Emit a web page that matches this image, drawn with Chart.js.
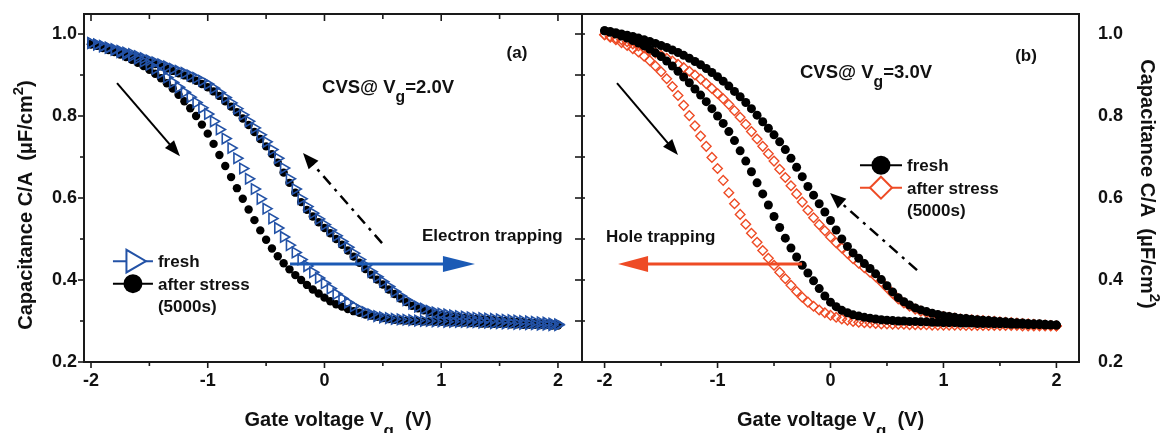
<!DOCTYPE html>
<html>
<head>
<meta charset="utf-8">
<script src="https://cdn.jsdelivr.net/npm/chart.js@4.4.1/dist/chart.umd.min.js"></script>
<style>
  html, body { margin: 0; padding: 0; background: #fff; }
  #wrap { position: relative; width: 1166px; height: 433px; overflow: hidden; }
  canvas { position: absolute; top: 0; }
  #chartA { left: 0; }
  #chartB { left: 560px; }
</style>
</head>
<body>
<div id="wrap">
  <canvas id="chartA" width="600" height="433"></canvas>
  <canvas id="chartB" width="606" height="433"></canvas>
</div>
<script>
// gate voltage sweep (V), same grid for every curve
const gateV = [
  -2, -1.95, -1.9, -1.85, -1.8, -1.75, -1.7, -1.65, -1.6, -1.55,
  -1.5, -1.45, -1.4, -1.35, -1.3, -1.25, -1.2, -1.15, -1.1, -1.05,
  -1, -0.95, -0.9, -0.85, -0.8, -0.75, -0.7, -0.65, -0.6, -0.55,
  -0.5, -0.45, -0.4, -0.35, -0.3, -0.25, -0.2, -0.15, -0.1, -0.05,
  0, 0.05, 0.1, 0.15, 0.2, 0.25, 0.3, 0.35, 0.4, 0.45,
  0.5, 0.55, 0.6, 0.65, 0.7, 0.75, 0.8, 0.85, 0.9, 0.95,
  1, 1.05, 1.1, 1.15, 1.2, 1.25, 1.3, 1.35, 1.4, 1.45,
  1.5, 1.55, 1.6, 1.65, 1.7, 1.75, 1.8, 1.85, 1.9, 1.95, 2
];
const xTicks = [-2, -1, 0, 1, 2];
const xMinor = [-1.5, -0.5, 0.5, 1.5];
const yTicks = [0.2, 0.4, 0.6, 0.8, 1.0];
const yMinor = [0.3, 0.5, 0.7, 0.9];
const seriesNames = ['fresh', 'after stress'];

// (a) CVS @ Vg = 2.0V  -- C/A in uF/cm2, fwd = -2 -> 2, rev = 2 -> -2
const aFreshFwd = [
  0.978, 0.974, 0.970, 0.966, 0.961, 0.956, 0.951, 0.946, 0.940, 0.933,
  0.925, 0.915, 0.905, 0.894, 0.882, 0.870, 0.858, 0.846, 0.833, 0.820,
  0.805, 0.787, 0.767, 0.745, 0.722, 0.697, 0.672, 0.647, 0.622, 0.598,
  0.574, 0.550, 0.527, 0.505, 0.485, 0.467, 0.450, 0.434, 0.419, 0.405,
  0.392, 0.379, 0.366, 0.355, 0.345, 0.336, 0.328, 0.322, 0.316, 0.312,
  0.309, 0.307, 0.305, 0.304, 0.303, 0.302, 0.301, 0.300, 0.300, 0.299,
  0.299, 0.298, 0.298, 0.298, 0.298, 0.297, 0.297, 0.296, 0.296, 0.295,
  0.295, 0.294, 0.294, 0.293, 0.293, 0.292, 0.292, 0.291, 0.291, 0.290, 0.290
];
const aFreshRev = [
  0.978, 0.975, 0.971, 0.967, 0.963, 0.959, 0.955, 0.951, 0.946, 0.941,
  0.936, 0.931, 0.926, 0.921, 0.915, 0.910, 0.905, 0.899, 0.893, 0.886,
  0.878, 0.868, 0.857, 0.845, 0.832, 0.818, 0.803, 0.787, 0.771, 0.754,
  0.737, 0.718, 0.697, 0.673, 0.647, 0.622, 0.598, 0.579, 0.563, 0.549,
  0.535, 0.522, 0.508, 0.494, 0.480, 0.465, 0.450, 0.435, 0.420, 0.408,
  0.396, 0.384, 0.372, 0.361, 0.351, 0.342, 0.335, 0.330, 0.325, 0.321,
  0.318, 0.316, 0.314, 0.312, 0.311, 0.309, 0.308, 0.307, 0.306, 0.305,
  0.304, 0.303, 0.302, 0.301, 0.300, 0.299, 0.298, 0.297, 0.296, 0.294, 0.292
];
const aStressFwd = [
  0.975, 0.971, 0.966, 0.961, 0.956, 0.950, 0.944, 0.937, 0.930, 0.922,
  0.913, 0.903, 0.892, 0.880, 0.867, 0.852, 0.836, 0.819, 0.800, 0.779,
  0.757, 0.732, 0.705, 0.678, 0.651, 0.624, 0.598, 0.572, 0.546, 0.521,
  0.498, 0.477, 0.458, 0.441, 0.426, 0.412, 0.400, 0.388, 0.377, 0.367,
  0.357, 0.348, 0.341, 0.335, 0.329, 0.324, 0.320, 0.316, 0.313, 0.310,
  0.307, 0.305, 0.303, 0.302, 0.301, 0.300, 0.300, 0.299, 0.299, 0.298,
  0.298, 0.297, 0.297, 0.296, 0.296, 0.295, 0.295, 0.294, 0.294, 0.293,
  0.293, 0.293, 0.292, 0.292, 0.291, 0.291, 0.291, 0.290, 0.290, 0.289, 0.289
];
const aStressRev = [
  0.975, 0.972, 0.968, 0.964, 0.960, 0.956, 0.952, 0.947, 0.942, 0.937,
  0.932, 0.927, 0.921, 0.916, 0.910, 0.904, 0.899, 0.892, 0.886, 0.878,
  0.870, 0.860, 0.849, 0.836, 0.823, 0.809, 0.794, 0.778, 0.761, 0.744,
  0.726, 0.707, 0.686, 0.662, 0.637, 0.613, 0.590, 0.571, 0.555, 0.541,
  0.527, 0.514, 0.500, 0.486, 0.472, 0.457, 0.442, 0.427, 0.413, 0.401,
  0.389, 0.377, 0.366, 0.355, 0.346, 0.337, 0.331, 0.326, 0.321, 0.317,
  0.315, 0.313, 0.311, 0.309, 0.308, 0.306, 0.305, 0.304, 0.303, 0.302,
  0.301, 0.300, 0.299, 0.298, 0.297, 0.296, 0.295, 0.294, 0.293, 0.292, 0.291
];

// (b) CVS @ Vg = 3.0V
const bFreshFwd = [
  1.008, 1.004, 1.000, 0.995, 0.990, 0.984, 0.978, 0.971, 0.963, 0.954,
  0.945, 0.934, 0.922, 0.909, 0.895, 0.881, 0.866, 0.851, 0.835, 0.818,
  0.800, 0.782, 0.762, 0.740, 0.715, 0.690, 0.664, 0.637, 0.610, 0.583,
  0.555, 0.528, 0.502, 0.478, 0.456, 0.436, 0.417, 0.398, 0.379, 0.361,
  0.346, 0.335, 0.326, 0.320, 0.315, 0.312, 0.309, 0.307, 0.305, 0.303,
  0.302, 0.301, 0.300, 0.300, 0.299, 0.299, 0.298, 0.298, 0.297, 0.297,
  0.296, 0.296, 0.296, 0.295, 0.295, 0.295, 0.294, 0.294, 0.294, 0.293,
  0.293, 0.293, 0.292, 0.292, 0.292, 0.291, 0.291, 0.291, 0.290, 0.290, 0.290
];
const bFreshRev = [
  1.008, 1.006, 1.003, 1.000, 0.997, 0.994, 0.990, 0.986, 0.982, 0.977,
  0.972, 0.967, 0.961, 0.955, 0.948, 0.941, 0.933, 0.925, 0.916, 0.906,
  0.896, 0.885, 0.873, 0.860, 0.847, 0.833, 0.818, 0.802, 0.786, 0.770,
  0.754, 0.737, 0.718, 0.697, 0.675, 0.652, 0.628, 0.607, 0.586, 0.566,
  0.545, 0.522, 0.500, 0.482, 0.466, 0.453, 0.440, 0.428, 0.415, 0.401,
  0.386, 0.371, 0.357, 0.347, 0.339, 0.332, 0.327, 0.323, 0.319, 0.316,
  0.313, 0.311, 0.309, 0.307, 0.306, 0.304, 0.303, 0.302, 0.301, 0.300,
  0.299, 0.298, 0.297, 0.296, 0.295, 0.294, 0.293, 0.293, 0.292, 0.291, 0.290
];
const bStressFwd = [
  0.998, 0.992, 0.986, 0.979, 0.972, 0.964, 0.956, 0.946, 0.935, 0.922,
  0.908, 0.891, 0.872, 0.850, 0.826, 0.801, 0.776, 0.751, 0.726, 0.699,
  0.672, 0.643, 0.613, 0.586, 0.560, 0.536, 0.514, 0.492, 0.472, 0.453,
  0.436, 0.419, 0.403, 0.387, 0.372, 0.358, 0.346, 0.336, 0.327, 0.320,
  0.314, 0.309, 0.305, 0.302, 0.299, 0.297, 0.296, 0.295, 0.294, 0.293,
  0.293, 0.292, 0.292, 0.292, 0.291, 0.291, 0.291, 0.291, 0.290, 0.290,
  0.290, 0.290, 0.290, 0.290, 0.289, 0.289, 0.289, 0.289, 0.289, 0.289,
  0.289, 0.289, 0.289, 0.289, 0.288, 0.288, 0.288, 0.288, 0.288, 0.288, 0.288
];
const bStressRev = [
  0.998, 0.994, 0.990, 0.986, 0.981, 0.976, 0.971, 0.966, 0.960, 0.954,
  0.948, 0.941, 0.934, 0.926, 0.918, 0.909, 0.900, 0.890, 0.879, 0.867,
  0.855, 0.842, 0.828, 0.813, 0.797, 0.780, 0.762, 0.744, 0.726, 0.708,
  0.690, 0.670, 0.650, 0.630, 0.610, 0.590, 0.570, 0.552, 0.535, 0.520,
  0.505, 0.491, 0.478, 0.465, 0.452, 0.441, 0.430, 0.419, 0.408, 0.395,
  0.381, 0.367, 0.354, 0.344, 0.336, 0.329, 0.324, 0.320, 0.316, 0.313,
  0.311, 0.309, 0.307, 0.305, 0.304, 0.303, 0.302, 0.301, 0.300, 0.299,
  0.298, 0.297, 0.296, 0.295, 0.294, 0.293, 0.292, 0.291, 0.290, 0.289, 0.288
];

const BLUE = '#2352a6';
const RED = '#ee4b25';
const FONT = '"Liberation Sans", Arial, sans-serif';

Chart.defaults.font.family = FONT;
Chart.defaults.font.weight = 'bold';
Chart.defaults.color = '#111';

// one dataset = forward sweep followed by the reverse sweep
function loop(fwd, rev) {
  const pts = gateV.map((v, i) => ({ x: v, y: fwd[i] }));
  for (let i = gateV.length - 1; i >= 0; i--) pts.push({ x: gateV[i], y: rev[i] });
  return pts;
}

// text with sub / superscript pieces
function rich(ctx, parts, x, y, size, align) {
  const fontOf = p => 'bold ' + (p[1] === 'sub' ? size * 0.85 : p[1] ? size * 0.75 : size) + 'px ' + FONT;
  const widths = parts.map(p => { ctx.font = fontOf(p); return ctx.measureText(p[0]).width; });
  const total = widths.reduce((s, w) => s + w, 0);
  let cx = align === 'center' ? x - total / 2 : x;
  parts.forEach((p, i) => {
    ctx.font = fontOf(p);
    const dy = p[1] === 'sub' ? size * 0.5 : p[1] === 'sup' ? -size * 0.45 : 0;
    ctx.fillText(p[0], cx, y + dy);
    cx += widths[i];
  });
}

function arrow(ctx, x1, y1, x2, y2, st) {
  const ang = Math.atan2(y2 - y1, x2 - x1);
  const c = Math.cos(ang), s = Math.sin(ang);
  const bx = x2 - c * st.head, by = y2 - s * st.head;
  ctx.save();
  ctx.strokeStyle = st.color;
  ctx.fillStyle = st.color;
  ctx.lineWidth = st.width;
  ctx.setLineDash(st.dash || []);
  ctx.beginPath();
  ctx.moveTo(x1, y1);
  ctx.lineTo(bx + c * 2, by + s * 2);
  ctx.stroke();
  ctx.setLineDash([]);
  ctx.beginPath();
  ctx.moveTo(x2, y2);
  ctx.lineTo(bx + s * st.half, by - c * st.half);
  ctx.lineTo(bx - s * st.half, by + c * st.half);
  ctx.closePath();
  ctx.fill();
  ctx.restore();
}

function marker(ctx, kind, color, x, y) {
  ctx.save();
  ctx.lineWidth = 2;
  ctx.strokeStyle = color;
  ctx.beginPath();
  if (kind === 'dot') {
    ctx.fillStyle = color;
    ctx.arc(x, y, 9.5, 0, Math.PI * 2);
    ctx.fill();
  } else if (kind === 'tri') {
    const r = 13;
    ctx.fillStyle = '#fff';
    ctx.moveTo(x + r, y);
    ctx.lineTo(x - r * 0.5, y + r * 0.87);
    ctx.lineTo(x - r * 0.5, y - r * 0.87);
    ctx.closePath();
    ctx.fill();
    ctx.stroke();
  } else if (kind === 'dia') {
    const r = 11;
    ctx.fillStyle = '#fff';
    ctx.moveTo(x, y - r);
    ctx.lineTo(x + r, y);
    ctx.lineTo(x, y + r);
    ctx.lineTo(x - r, y);
    ctx.closePath();
    ctx.fill();
    ctx.stroke();
  }
  ctx.restore();
}

const panelPlugin = {
  id: 'panel',
  afterDraw(chart, args, o) {
    const { ctx, chartArea: a, scales: { x, y } } = chart;
    ctx.save();
    // tick marks (positive length = outward)
    ctx.strokeStyle = '#1a1a1a';
    ctx.lineWidth = 1.6;
    const tk = o.ticks;
    const seg = (x1, y1, x2, y2) => { ctx.beginPath(); ctx.moveTo(x1, y1); ctx.lineTo(x2, y2); ctx.stroke(); };
    Object.keys(tk).forEach(side => {
      const [maj, min] = tk[side];
      const horiz = side === 'top' || side === 'bottom';
      [[horiz ? xTicks : yTicks, maj], [horiz ? xMinor : yMinor, min]].forEach(([vals, len]) => {
        vals.forEach(v => {
          if (horiz) {
            const px = x.getPixelForValue(v);
            if (side === 'bottom') seg(px, a.bottom, px, a.bottom + len);
            else seg(px, a.top, px, a.top - len);
          } else {
            const py = y.getPixelForValue(v);
            if (side === 'left') seg(a.left, py, a.left - len, py);
            else seg(a.right, py, a.right + len, py);
          }
        });
      });
    });
    // frame
    ctx.lineWidth = 2;
    ctx.strokeRect(a.left, a.top, a.right - a.left, a.bottom - a.top);

    // notes and arrows, placed in data coordinates
    ctx.fillStyle = '#111';
    o.notes.forEach(n => {
      if (n.kind === 'text') {
        ctx.textBaseline = n.mid ? 'middle' : 'alphabetic';
        ctx.textAlign = 'left';
        rich(ctx, n.parts, x.getPixelForValue(n.x), y.getPixelForValue(n.y), n.size, n.align);
      } else {
        arrow(ctx, x.getPixelForValue(n.x1), y.getPixelForValue(n.y1),
          x.getPixelForValue(n.x2), y.getPixelForValue(n.y2), n);
      }
    });

    // legend
    const L = o.legend;
    const lx = x.getPixelForValue(L.x);
    let ly = y.getPixelForValue(L.y);
    L.rows.forEach(r => {
      if (r.marker) {
        ctx.strokeStyle = r.color;
        ctx.lineWidth = 2;
        seg(lx, ly, lx + L.len, ly);
        marker(ctx, r.marker, r.color, lx + L.len / 2, ly);
      }
      ctx.fillStyle = '#111';
      ctx.textBaseline = 'middle';
      ctx.textAlign = 'left';
      rich(ctx, [[r.text]], lx + L.len + 5, ly + 1.5, 17, 'left');
      ly += 22.5;
    });

    // axis titles
    ctx.fillStyle = '#111';
    ctx.textBaseline = 'alphabetic';
    ctx.textAlign = 'left';
    rich(ctx, [['Gate voltage V'], ['g', 'sub'], ['  (V)']], (a.left + a.right) / 2 + o.xTitleShift, 426, 20, 'center');
    const t = o.yTitle;
    ctx.save();
    ctx.translate(t.x, t.y);
    ctx.rotate(t.side === 'left' ? -Math.PI / 2 : Math.PI / 2);
    rich(ctx, [['Capacitance C/A  (\u03bcF/cm'], ['2', 'sup'], [')']], 0, 0, 20, 'center');
    ctx.restore();
    ctx.restore();
  }
};

// label offsets go through tickLength (grid hidden) so the layout keeps its top padding
function xAxis(min, max) {
  return {
    type: 'linear', min, max,
    afterBuildTicks: s => { s.ticks = xTicks.map(v => ({ value: v })); },
    afterFit: s => { s.height = 71; },
    grid: { display: false, drawTicks: true, tickLength: 8 },
    border: { display: false },
    ticks: { font: { size: 18 }, padding: 0, callback: v => String(v) }
  };
}
function yAxis(position, offset, width) {
  return {
    type: 'linear', position, min: 0.2, max: 1.0488,
    afterBuildTicks: s => { s.ticks = yTicks.map(v => ({ value: v })); },
    afterFit: s => { s.width = width; },
    grid: { display: false, drawTicks: true, tickLength: offset },
    border: { display: false },
    ticks: { font: { size: 18 }, padding: 0, callback: v => v.toFixed(1) }
  };
}

function ds(label, data, style) {
  return Object.assign({ label, data, showLine: false, pointHoverRadius: 0 }, style);
}

// panel (a)
new Chart(document.getElementById('chartA'), {
  type: 'scatter',
  data: {
    datasets: [
      ds(seriesNames[0], loop(aFreshFwd, aFreshRev), {
        pointStyle: 'triangle', pointRotation: 90, pointRadius: 6, pointBorderWidth: 1.6,
        pointBorderColor: BLUE, pointBackgroundColor: 'rgba(0,0,0,0)'
      }),
      ds(seriesNames[1], loop(aStressFwd, aStressRev), {
        pointStyle: 'circle', pointRadius: 4.2, pointBorderWidth: 0,
        pointBorderColor: '#000', pointBackgroundColor: '#000'
      })
    ]
  },
  options: {
    responsive: false, animation: false, devicePixelRatio: 1,
    layout: { padding: { top: 14, right: 18, left: 0, bottom: 0 } },
    scales: { x: xAxis(-2.06, 2.206), y: yAxis('left', 7, 84) },
    plugins: {
      legend: { display: false }, tooltip: { enabled: false },
      panel: {
        ticks: { bottom: [6, 4], top: [-7, -5], left: [6, 4], right: [-7, -7] },
        xTitleShift: 5,
        yTitle: { side: 'left', x: 32, y: 205 },
        legend: {
          x: -1.812, y: 0.446, len: 40,
          rows: [
            { marker: 'tri', color: BLUE, text: seriesNames[0] },
            { marker: 'dot', color: '#000', text: seriesNames[1] },
            { text: '(5000s)' }
          ]
        },
        notes: [
          { kind: 'text', x: 1.649, y: 0.954, mid: true, parts: [['(a)']], size: 17, align: 'center' },
          { kind: 'text', x: -0.021, y: 0.856, parts: [['CVS@ V'], ['g', 'sub'], ['=2.0V']], size: 18.5, align: 'left' },
          { kind: 'arrow', x1: -1.777, y1: 0.880, x2: -1.238, y2: 0.702, color: '#000', width: 2, head: 16, half: 6 },
          { kind: 'arrow', x1: 0.493, y1: 0.490, x2: -0.184, y2: 0.710, color: '#000', width: 2.5, head: 16, half: 6.5, dash: [11, 6, 3, 6] },
          { kind: 'text', x: 0.835, y: 0.495, parts: [['Electron trapping']], size: 17, align: 'left' },
          { kind: 'arrow', x1: -0.295, y1: 0.439, x2: 1.289, y2: 0.439, color: '#1b5ab5', width: 3, head: 32, half: 8 }
        ]
      }
    }
  },
  plugins: [panelPlugin]
});

// panel (b)
new Chart(document.getElementById('chartB'), {
  type: 'scatter',
  data: {
    datasets: [
      ds(seriesNames[0], loop(bFreshFwd, bFreshRev), {
        pointStyle: 'circle', pointRadius: 4.5, pointBorderWidth: 0,
        pointBorderColor: '#000', pointBackgroundColor: '#000'
      }),
      ds(seriesNames[1], loop(bStressFwd, bStressRev), {
        pointStyle: 'rectRot', pointRadius: 4.8, pointBorderWidth: 1.4,
        pointBorderColor: RED, pointBackgroundColor: 'rgba(0,0,0,0)'
      })
    ]
  },
  options: {
    responsive: false, animation: false, devicePixelRatio: 1,
    layout: { padding: { top: 14, right: 0, left: 22, bottom: 0 } },
    scales: { x: xAxis(-2.2, 2.2), y: yAxis('right', 19, 87) },
    plugins: {
      legend: { display: false }, tooltip: { enabled: false },
      panel: {
        ticks: { bottom: [6, 4], left: [-3, -3] },
        xTitleShift: 0,
        yTitle: { side: 'right', x: 581, y: 184 },
        legend: {
          x: 0.261, y: 0.680, len: 42,
          rows: [
            { marker: 'dot', color: '#000', text: seriesNames[0] },
            { marker: 'dia', color: RED, text: seriesNames[1] },
            { text: '(5000s)' }
          ]
        },
        notes: [
          { kind: 'text', x: 1.731, y: 0.946, mid: true, parts: [['(b)']], size: 17, align: 'center' },
          { kind: 'text', x: -0.270, y: 0.893, parts: [['CVS@ V'], ['g', 'sub'], ['=3.0V']], size: 18.5, align: 'left' },
          { kind: 'arrow', x1: -1.890, y1: 0.880, x2: -1.350, y2: 0.705, color: '#000', width: 2, head: 16, half: 6 },
          { kind: 'arrow', x1: 0.766, y1: 0.424, x2: -0.004, y2: 0.612, color: '#000', width: 2.5, head: 16, half: 6.5, dash: [11, 6, 3, 6] },
          { kind: 'text', x: -1.988, y: 0.493, parts: [['Hole trapping']], size: 17, align: 'left' },
          { kind: 'arrow', x1: -0.252, y1: 0.439, x2: -1.881, y2: 0.439, color: RED, width: 3, head: 30, half: 8 }
        ]
      }
    }
  },
  plugins: [panelPlugin]
});
</script>
</body>
</html>
